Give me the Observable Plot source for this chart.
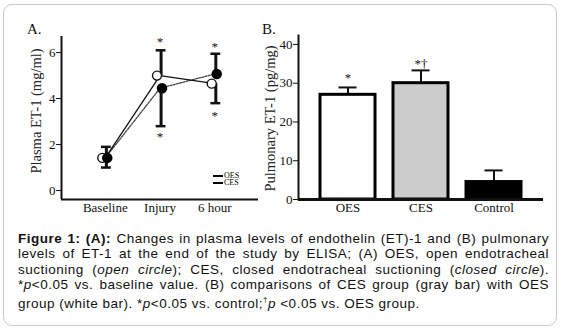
<!DOCTYPE html>
<html><head><meta charset="utf-8">
<script src="https://cdn.jsdelivr.net/npm/d3@7"></script>
<script src="https://cdn.jsdelivr.net/npm/@observablehq/plot@0.6"></script>
<style>
body{margin:0;background:#fff;width:562px;height:335px;overflow:hidden;position:relative;font-family:"Liberation Serif","Times New Roman",serif;}
#box{position:absolute;left:3px;top:4px;width:554px;height:322px;border:1.5px solid #c9c9c9;border-radius:9px;box-sizing:border-box;}
.pan{position:absolute;top:0;}
.ttl{position:absolute;font-size:15px;color:#111;}
#cap{position:absolute;left:18px;top:231px;width:531px;font-family:"Liberation Sans",Arial,sans-serif;font-size:13.5px;letter-spacing:0.5px;line-height:15.3px;text-align:justify;color:#111;}
#leg{position:absolute;left:213px;top:172px;font-size:8px;line-height:7px;font-family:"Liberation Serif",serif;}
#leg span.l{display:inline-block;width:10px;height:2px;background:#000;vertical-align:middle;margin-right:1px;}
</style></head>
<body>
<div id="box"></div>
<div id="pa" class="pan" style="left:0"></div>
<div id="pb" class="pan" style="left:255px"></div>
<div class="ttl" style="left:27px;top:21px">A.</div>
<div class="ttl" style="left:262px;top:21px">B.</div>
<div id="leg"><div><span class="l"></span>OES</div><div><span class="l"></span>CES</div></div>
<div id="cap"><b>Figure 1: (A):</b> Changes in plasma levels of endothelin (ET)-1 and (B) pulmonary levels of ET-1 at the end of the study by ELISA; (A) OES, open endotracheal suctioning (<i>open circle</i>); CES, closed endotracheal suctioning (<i>closed circle</i>). *<i>p</i>&lt;0.05 vs. baseline value. (B) comparisons of CES group (gray bar) with OES group (white bar). *<i>p</i>&lt;0.05 vs. control;<sup style="font-size:8px">†</sup><i>p</i> &lt;0.05 vs. OES group.</div>
<script>
// ---- Panel A data ----
const timepoints = ["Baseline", "Injury", "6 hour"];
const oesMean = [1.42, 5.0, 4.65];
const cesMean = [1.42, 4.45, 5.07];
const oesErrEnd = [1.9, 6.1, 3.8];
const cesErrEnd = [1.0, 2.8, 5.95];
const starsAIdx = [1, 1, 2, 2];
const starsAY = [6.45, 2.35, 6.27, 3.27];
const yTicksA = [0, 2, 4, 6];

// ---- Panel B data ----
const groups = ["OES", "CES", "Control"];
const pulmMean = [27, 30, 4.5];
const pulmErrEnd = [28.9, 33.3, 7.5];
const barFill = ["#ffffff", "#cccccc", "#000000"];
const starsBLabel = ["*", "*†"];
const starsBGroup = ["OES", "CES"];
const starsBY = [31.3, 35.0];
const yTicksB = [0, 10, 20, 30, 40];

const serif = '"Liberation Serif","Times New Roman",serif';

const oes = timepoints.map((t, i) => ({i, t, y: oesMean[i], e: oesErrEnd[i]}));
const ces = timepoints.map((t, i) => ({i, t, y: cesMean[i], e: cesErrEnd[i]}));
const starsA = starsAIdx.map((i, k) => ({i, y: starsAY[k]}));
const xDomA = [-0.8, 2.8], yDomA = [-0.39, 6.7];
const cap = 0.09;

const plotA = Plot.plot({
  width: 260, height: 225,
  marginLeft: 61, marginRight: 2, marginTop: 36, marginBottom: 26,
  style: {fontFamily: serif, fontSize: "13px", color: "#111", background: "transparent"},
  x: {domain: xDomA},
  y: {domain: yDomA},
  marks: [
    Plot.axisY({ticks: yTicksA, tickSize: 5, tickPadding: 1, fontSize: 13, label: null}),
    Plot.axisX({ticks: [0, 1, 2], tickFormat: i => timepoints[i], tickSize: 0, tickPadding: 3, fontSize: 13, label: null}),
    Plot.text(["Plasma ET-1 (mg/ml)"], {frameAnchor: "left", textAnchor: "middle", rotate: -90, dx: -25, dy: -7, fontSize: 14.5, fill: "#222"}),
    Plot.ruleX([xDomA[0]], {strokeWidth: 2}),
    Plot.ruleY([yDomA[0]], {strokeWidth: 2}),
    Plot.ruleX([...oes, ...ces], {x: d => d.i + 0.02, y1: "y", y2: "e", strokeWidth: 3}),
    Plot.ruleY([...oes, ...ces], {x1: d => d.i + 0.02 - cap, x2: d => d.i + 0.02 + cap, y: "e", strokeWidth: 2.5}),
    Plot.line(ces, {x: "i", y: "y", stroke: "#444", strokeWidth: 1.3, strokeDasharray: "2,1.3"}),
    Plot.line(oes, {x: "i", y: "y", stroke: "#111", strokeWidth: 1.3}),
    Plot.dot(oes, {x: "i", y: "y", r: 4.5, fill: "white", stroke: "#111", strokeWidth: 1.4, dx: -3}),
    Plot.dot(ces, {x: "i", y: "y", r: 4.5, fill: "#000", stroke: "#000", dx: 2}),
    Plot.text(starsA, {x: "i", y: "y", text: () => "*", fontSize: 13, fill: "#111"})
  ]
});
document.getElementById("pa").appendChild(plotA);

const bars = groups.map((g, i) => ({g, v: pulmMean[i], e: pulmErrEnd[i], f: barFill[i]}));
const starsB = starsBLabel.map((s, k) => ({s, g: starsBGroup[k], y: starsBY[k]}));

const plotB = Plot.plot({
  width: 307, height: 225,
  marginLeft: 43, marginRight: 19, marginTop: 35, marginBottom: 26,
  style: {fontFamily: serif, fontSize: "13px", color: "#111", background: "transparent"},
  x: {domain: groups, range: [65, 266], paddingInner: 0.25, paddingOuter: 0},
  y: {domain: [0, 42.3]},
  color: {type: "identity"},
  marks: [
    Plot.axisY({ticks: yTicksB, tickSize: 5, tickPadding: 1, fontSize: 13, label: null}),
    Plot.axisX({tickSize: 0, tickPadding: 3, fontSize: 13, label: null}),
    Plot.text(["Pulmonary ET-1 (pg/mg)"], {frameAnchor: "left", textAnchor: "middle", rotate: -90, dx: -28, dy: 1, fontSize: 14.5, fill: "#222"}),
    Plot.ruleX(bars, {x: "g", y1: "v", y2: "e", strokeWidth: 2}),
    Plot.tickY(bars, {x: "g", y: "e", strokeWidth: 2, insetLeft: 18.5, insetRight: 18.5}),
    Plot.barY(bars, {x: "g", y: "v", fill: "f", stroke: "#000", strokeWidth: 3}),
    Plot.frame({anchor: "left", strokeWidth: 2}),
    Plot.ruleY([0], {strokeWidth: 3}),
    Plot.text(starsB, {x: "g", y: "y", text: "s", fontSize: 13, fill: "#111"})
  ]
});
document.getElementById("pb").appendChild(plotB);
</script>
</body></html>
